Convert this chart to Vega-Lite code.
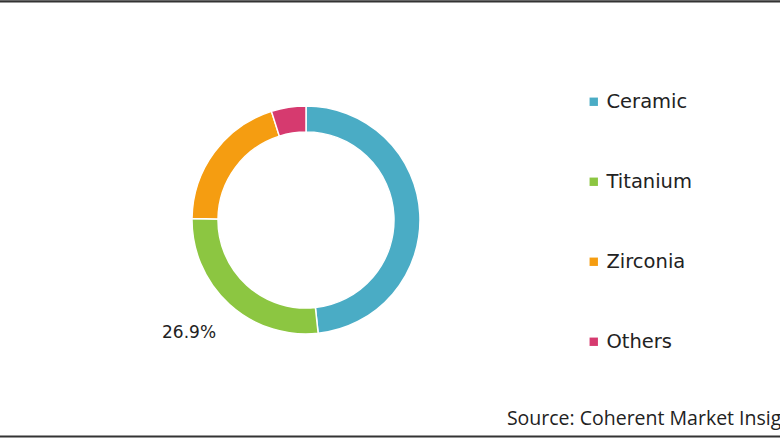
{
  "$schema": "https://vega.github.io/schema/vega-lite/v6.json",
  "width": 780,
  "height": 440,
  "autosize": {"type": "none"},
  "padding": 0,
  "background": "white",
  "config": {"view": {"stroke": null}},
  "title": {
    "text": "Source: Coherent Market Insights",
    "orient": "bottom",
    "anchor": "start",
    "dx": 508,
    "offset": -15,
    "baseline": "alphabetic",
    "font": "Open Sans",
    "fontSize": 19.5,
    "fontWeight": "normal",
    "color": "#222222"
  },
  "layer": [
    {
      "data": {"values": [
        {"edge": "top", "pos": 1},
        {"edge": "bottom", "pos": 0}
      ]},
      "mark": {"type": "rule", "color": "#333333", "strokeWidth": 2.2},
      "encoding": {
        "y": {"field": "pos", "type": "quantitative", "scale": {"domain": [-0.008, 1.003]}, "axis": null}
      }
    },
    {
      "data": {"values": [
        {"material": "Ceramic", "share": 48.3, "rank": 1, "label": ""},
        {"material": "Titanium", "share": 26.9, "rank": 2, "label": "26.9%"},
        {"material": "Zirconia", "share": 19.9, "rank": 3, "label": ""},
        {"material": "Others", "share": 4.9, "rank": 4, "label": ""}
      ]},
      "encoding": {
        "theta": {"field": "share", "type": "quantitative", "stack": true},
        "order": {"field": "rank", "type": "quantitative"}
      },
      "layer": [
        {
          "mark": {"type": "arc", "x": 306, "y": 220, "innerRadius": 88, "outerRadius": 114, "stroke": "white", "strokeWidth": 1.5},
          "encoding": {
            "color": {
              "field": "material",
              "type": "nominal",
              "sort": ["Ceramic", "Titanium", "Zirconia", "Others"],
              "scale": {
                "domain": ["Ceramic", "Titanium", "Zirconia", "Others"],
                "range": ["#4aacc5", "#8cc641", "#f59d11", "#d63a6f"]
              },
              "legend": {
                "title": null,
                "orient": "none",
                "legendX": 584,
                "legendY": 92,
                "symbolType": "square",
                "symbolSize": 70,
                "symbolStrokeWidth": 0,
                "labelFont": "DejaVu Sans",
                "labelFontSize": 19.5,
                "labelColor": "#222222",
                "labelOffset": 3,
                "rowPadding": 59
              }
            }
          }
        },
        {
          "mark": {"type": "text", "x": 306, "y": 220, "radius": 147, "align": "right", "baseline": "middle", "dx": 9, "dy": 4, "font": "DejaVu Sans", "fontSize": 17, "color": "#222222"},
          "encoding": {
            "text": {"field": "label", "type": "nominal"}
          }
        }
      ]
    }
  ],
  "resolve": {"scale": {"y": "independent"}}
}
